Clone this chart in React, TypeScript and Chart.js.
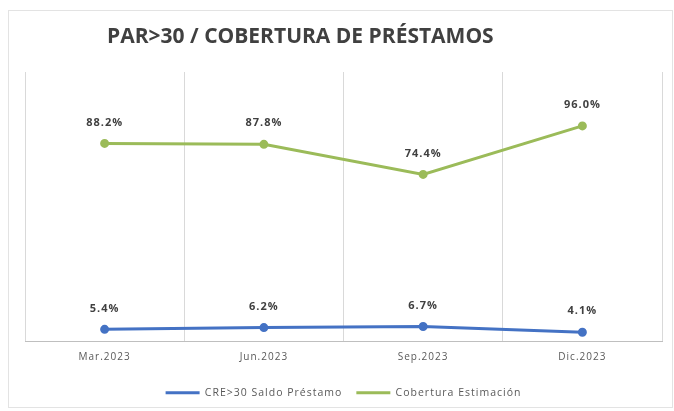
import React, { useEffect, useRef } from "react";
import { Chart, registerables } from "chart.js";

Chart.register(...registerables);

const categories = ["Mar.2023", "Jun.2023", "Sep.2023", "Dic.2023"];
const parSeries = [5.4, 6.2, 6.7, 4.1];
const coberturaSeries = [88.2, 87.8, 74.4, 96.0];
const seriesNames = ["CRE>30 Saldo Préstamo", "Cobertura Estimación"];
const chartTitle = "PAR>30 / COBERTURA DE PRÉSTAMOS";

const spacingPlugin = {
  id: "spacing",
  beforeUpdate(chart: any) {
    chart.ctx.letterSpacing = "1px";
  },
  beforeDraw(chart: any) {
    chart.ctx.letterSpacing = "1px";
  },
};

const titlePlugin = {
  id: "leftTitle",
  afterDraw(chart: any) {
    const ctx = chart.ctx;
    ctx.save();
    ctx.letterSpacing = "0px";
    ctx.font = "bold 21px 'Open Sans', sans-serif";
    ctx.fillStyle = "#404040";
    ctx.textBaseline = "middle";
    ctx.textAlign = "left";
    ctx.fillText(chartTitle, 98, 26);
    ctx.restore();
  },
};

const labelPlugin = {
  id: "valueLabels",
  afterDatasetsDraw(chart: any) {
    const ctx = chart.ctx;
    ctx.save();
    ctx.letterSpacing = "1px";
    ctx.font = "bold 11px 'Open Sans', sans-serif";
    ctx.fillStyle = "#404040";
    ctx.textAlign = "center";
    ctx.textBaseline = "middle";
    chart.data.datasets.forEach((ds: any, i: number) => {
      const meta = chart.getDatasetMeta(i);
      meta.data.forEach((pt: any, j: number) => {
        ctx.fillText(ds.data[j].toFixed(1) + "%", pt.x, pt.y - 21);
      });
    });
    ctx.restore();
  },
};

export default function App() {
  const ref = useRef<HTMLCanvasElement>(null);
  useEffect(() => {
    if (!ref.current) return;
    const chart = new Chart(ref.current, {
      type: "line",
      data: {
        labels: categories,
        datasets: [
          {
            label: seriesNames[0],
            data: parSeries,
            borderColor: "#4472C4",
            backgroundColor: "#4472C4",
            borderWidth: 3,
            pointRadius: 3,
            pointStyle: "circle",
            tension: 0,
          },
          {
            label: seriesNames[1],
            data: coberturaSeries,
            borderColor: "#9BBB59",
            backgroundColor: "#9BBB59",
            borderWidth: 3,
            pointRadius: 3,
            pointStyle: "circle",
            tension: 0,
          },
        ],
      },
      options: {
        animation: false,
        responsive: false,
        maintainAspectRatio: false,
        layout: { padding: { left: 16, right: 10, top: 61, bottom: -1 } },
        scales: {
          x: {
            offset: true,
            grid: { offset: true, color: "#d9d9d9", drawTicks: false },
            border: { color: "#bfbfbf", width: 1 },
            ticks: {
              color: "#595959",
              font: { size: 10, family: "'Open Sans', sans-serif" },
              padding: 10,
            },
          },
          y: {
            display: false,
            min: 0,
            max: 120,
          },
        },
        plugins: {
          legend: {
            position: "bottom",
            labels: {
              usePointStyle: true,
              pointStyle: "line",
              pointStyleWidth: 34,
              boxWidth: 34,
              color: "#595959",
              font: { size: 10.5, family: "'Open Sans', sans-serif" },
              padding: 14,
            },
          },
          title: { display: false },
          tooltip: { enabled: false },
        },
      },
      plugins: [spacingPlugin, titlePlugin, labelPlugin],
    });
    return () => chart.destroy();
  }, []);
  return (
    <div
      style={{
        position: "absolute",
        left: 8,
        top: 10,
        width: 665,
        height: 398,
        border: "1px solid #e3e3e3",
        boxSizing: "border-box",
        background: "#fff",
      }}
    >
      <canvas ref={ref} width={663} height={396} style={{ display: "block" }} />
    </div>
  );
}
